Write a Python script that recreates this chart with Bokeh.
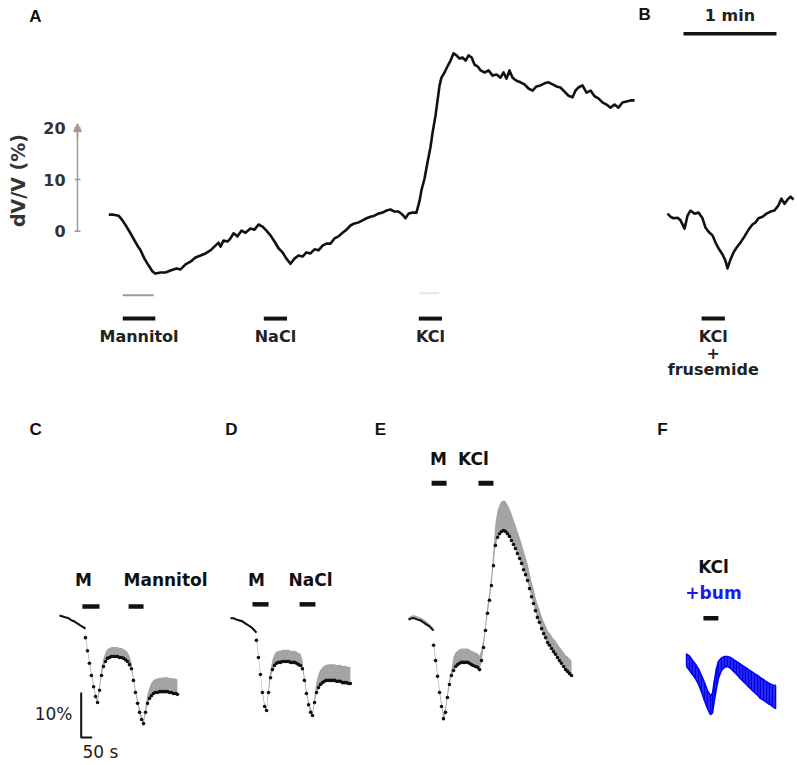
import numpy as np
from bokeh.plotting import figure
from bokeh.layouts import column, row
from bokeh.models import ColumnDataSource, Range1d, Arrow, NormalHead
from bokeh.core.properties import value
from bokeh.embed import file_html
from bokeh.resources import INLINE

# ---------------- DATA ----------------
# Panel A: single-cell volume trace, time (s) vs dV/V (%)
a_t = [0.0, 3.0, 6.3, 8.8, 11.4, 14.0, 16.6, 18.5, 20.5, 23.0,
       25.6, 28.2, 30.1, 33.4, 36.6, 39.8, 43.7, 46.3, 49.5, 52.7,
       55.9, 59.2, 62.4, 65.6, 68.8, 70.8, 72.1, 74.0, 76.6, 78.5,
       80.5, 83.0, 85.6, 88.2, 91.4, 94.0, 96.6, 99.2, 101.7, 104.3,
       106.9, 109.5, 112.1, 114.6, 117.2, 119.8, 122.4, 125.0, 127.5, 130.1,
       132.7, 135.3, 137.9, 140.4, 143.0, 145.6, 148.2, 150.8, 153.4, 155.9,
       158.5, 161.1, 163.7, 166.3, 168.8, 171.4, 174.0, 176.6, 179.2, 181.7,
       184.3, 186.9, 189.5, 191.4, 193.4, 196.0, 198.5, 200.5, 201.7, 203.7,
       205.6, 207.5, 208.8, 210.8, 212.1, 213.4, 214.6, 216.6, 218.5, 220.5,
       222.4, 224.3, 226.3, 228.2, 230.2, 232.1, 234.1, 236.0, 237.9, 239.9,
       242.5, 245.0, 247.6, 250.2, 252.7, 254.7, 256.6, 258.5, 260.5, 263.0,
       265.6, 268.2, 270.8, 273.4, 275.9, 278.5, 281.1, 283.7, 286.3, 288.8,
       291.4, 294.0, 296.6, 299.2, 301.1, 303.0, 305.6, 308.2, 310.8, 313.4,
       315.9, 318.5, 321.1, 323.7, 326.3, 328.8, 331.4, 334.0, 336.6, 339.2]
a_v = [3.2, 3.2, 3.0, 2.1, 0.9, -0.4, -1.8, -2.8, -3.7, -5.3,
       -6.6, -7.8, -8.2, -8.0, -8.0, -7.6, -7.2, -7.4, -6.4, -5.9,
       -5.1, -4.7, -4.3, -3.7, -2.8, -2.2, -3.0, -1.8, -2.0, -1.4,
       -0.4, -1.0, 0.1, -0.3, 0.5, 0.3, 1.3, 0.9, 0.1, -0.8,
       -2.0, -3.3, -4.1, -5.3, -6.3, -5.3, -4.7, -4.9, -4.1, -4.3,
       -3.5, -3.7, -2.8, -2.4, -2.4, -1.4, -1.0, -0.3, 0.3, 1.1,
       1.5, 1.7, 2.1, 2.5, 2.8, 3.0, 3.4, 3.6, 4.0, 4.2,
       3.8, 3.8, 3.2, 2.5, 3.4, 3.6, 3.6, 5.9, 7.9, 10.2,
       13.3, 16.2, 18.9, 22.4, 25.3, 28.2, 29.7, 30.7, 31.9, 33.0,
       34.4, 34.0, 33.4, 33.6, 33.0, 34.0, 33.6, 32.2, 31.9, 31.1,
       30.7, 31.1, 30.1, 30.3, 29.7, 30.7, 29.5, 31.1, 29.7, 29.1,
       28.8, 28.4, 27.6, 27.2, 28.0, 28.2, 28.6, 28.8, 28.4, 28.0,
       27.8, 27.0, 26.2, 25.9, 27.2, 27.8, 28.2, 26.8, 27.2, 26.1,
       25.7, 24.9, 24.5, 23.9, 24.5, 23.9, 24.9, 25.1, 25.3, 25.3]
a_stim_names = ["Mannitol", "NaCl", "KCl"]
a_stim_start = [9, 100, 200]
a_stim_end = [30, 115, 215]
a_ticks = [0, 10, 20]
a_tick_labels = ["0", "10", "20"]
a_axis_label = "dV/V (%)"

# Panel B: KCl + frusemide
b_t = [0.0, 1.9, 3.9, 6.5, 8.4, 11.0, 12.9, 14.8, 17.4, 20.0,
       22.6, 24.5, 26.5, 29.0, 31.0, 32.9, 35.5, 37.4, 38.7, 40.6,
       42.6, 44.5, 47.1, 49.7, 52.3, 54.8, 56.8, 58.7, 61.3, 63.9,
       66.5, 69.0, 71.6, 73.5, 75.5, 77.4, 79.4, 81.3]
b_v = [3.4, 2.8, 2.5, 2.6, 2.1, 0.5, 3.0, 4.0, 3.4, 3.6,
       2.5, 0.7, -0.1, -0.8, -2.2, -3.3, -4.5, -5.7, -7.2, -5.5,
       -4.1, -3.2, -2.2, -1.0, 0.3, 1.3, 1.7, 2.5, 2.8, 3.4,
       3.8, 4.0, 5.0, 6.3, 5.3, 6.1, 6.7, 6.1]
b_stim_start = [22]
b_stim_end = [37]
b_scale_s = 60  # "1 min"

# Panel C: M then Mannitol (mean + SEM)
c_pre_t = [0, 14, 27, 41, 55, 68, 82, 95, 109, 118]
c_pre_v = [0.2, 0.0, -0.2, -0.4, -0.9, -1.1, -1.6, -2.0, -2.4, -2.7]
c_pre_sem = [0.3, 0.3, 0.3, 0.3, 0.3, 0.3, 0.3, 0.3, 0.3, 0.3]
c_t = [118, 127, 136, 145, 155, 164, 173, 182, 191, 200,
       209, 218, 227, 236, 245, 255, 264, 273, 282, 291,
       300, 309, 318, 327, 336, 345, 355, 364, 373, 382,
       391, 400, 409, 418, 427, 436, 445, 455, 464, 473,
       482, 491, 500, 509, 518, 527, 536]
c_mean = [-4.7, -7.6, -10.4, -13.1, -15.6, -17.8, -19.1, -16.4, -13.1, -11.1,
          -10.0, -9.3, -9.1, -8.9, -8.9, -8.9, -8.9, -9.1, -9.1, -9.3,
          -9.6, -10.0, -10.7, -11.6, -14.2, -16.9, -19.3, -21.3, -22.9, -23.8,
          -21.3, -19.3, -18.2, -17.6, -17.1, -16.9, -16.9, -16.7, -16.7, -16.7,
          -16.7, -16.7, -16.9, -16.9, -17.1, -17.1, -17.3]
c_sem = [0.7, 0.7, 0.7, 0.7, 0.7, 0.7, 0.7, 1.3, 1.6, 1.8,
         2.0, 2.1, 2.1, 2.1, 2.1, 2.1, 2.1, 2.1, 2.1, 2.1,
         2.1, 2.1, 2.0, 1.5, 0.9, 0.9, 0.9, 0.9, 0.9, 0.9,
         1.3, 2.0, 2.5, 2.9, 3.0, 3.0, 3.1, 3.1, 3.1, 3.2,
         3.2, 3.2, 3.2, 3.3, 3.3, 3.3, 3.3]
c_stim_names = ["M", "Mannitol"]
c_stim_start = [104, 314]
c_stim_end = [182, 382]

# Panel D: M then NaCl
d_pre_t = [0, 14, 27, 41, 55, 68, 82, 95, 109, 118]
d_pre_v = [-0.4, -0.4, -0.7, -0.9, -1.1, -1.6, -2.0, -2.4, -3.1, -3.6]
d_pre_sem = [0.3, 0.3, 0.3, 0.3, 0.3, 0.3, 0.3, 0.3, 0.3, 0.3]
d_t = [118, 127, 136, 145, 155, 164, 173, 182, 191, 200,
       209, 218, 227, 236, 245, 255, 264, 273, 282, 291,
       300, 309, 318, 327, 336, 345, 355, 364, 373, 382,
       391, 400, 409, 418, 427, 436, 445, 455, 464, 473,
       482, 491, 500, 509, 518, 527, 536, 545]
d_mean = [-5.3, -9.1, -12.9, -16.9, -20.0, -20.9, -16.9, -13.6, -11.8, -10.9,
          -10.4, -10.2, -10.2, -10.0, -10.0, -10.0, -10.0, -10.2, -10.2, -10.2,
          -10.4, -10.7, -10.9, -11.6, -14.2, -17.1, -19.6, -21.3, -22.0, -19.1,
          -16.9, -15.8, -15.1, -14.7, -14.4, -14.2, -14.2, -14.2, -14.2, -14.2,
          -14.4, -14.4, -14.4, -14.7, -14.7, -14.7, -14.9, -14.9]
d_sem = [0.7, 0.7, 0.7, 0.7, 0.7, 0.7, 1.5, 1.8, 2.3, 2.5,
         2.6, 2.6, 2.6, 2.6, 2.6, 2.6, 2.6, 2.6, 2.6, 2.6,
         2.6, 2.6, 2.6, 2.0, 0.9, 0.9, 0.9, 0.9, 0.9, 1.5,
         2.5, 3.0, 3.3, 3.4, 3.5, 3.5, 3.6, 3.6, 3.6, 3.6,
         3.6, 3.6, 3.7, 3.7, 3.7, 3.7, 3.7, 3.7]
d_stim_names = ["M", "NaCl"]
d_stim_start = [100, 314]
d_stim_end = [173, 386]

# Panel E: M then KCl
e_pre_t = [0, 14, 27, 41, 55, 68, 82, 95, 105, 114]
e_pre_v = [-0.7, -0.4, -0.4, -0.7, -0.9, -1.3, -1.8, -2.2, -2.7, -3.1]
e_pre_sem = [0.5, 0.6, 0.7, 0.7, 0.7, 0.7, 0.7, 0.6, 0.6, 0.5]
e_t = [114, 123, 132, 141, 150, 159, 168, 177, 186, 195,
       205, 214, 223, 232, 241, 250, 259, 268, 277, 286,
       295, 305, 314, 323, 332, 341, 350, 359, 368, 377,
       386, 395, 405, 414, 423, 432, 441, 450, 459, 468,
       477, 486, 495, 505, 514, 523, 532, 541, 550, 559,
       568, 577, 586, 595, 605, 614, 623, 632, 641, 650,
       659, 668, 677, 686, 695, 705, 714, 723, 732, 741]
e_mean = [-6.4, -9.8, -13.3, -16.9, -20.0, -22.7, -21.3, -18.0, -15.1, -13.1,
          -12.0, -11.1, -10.7, -10.4, -10.2, -10.2, -10.2, -10.2, -10.4, -10.7,
          -10.9, -11.1, -11.3, -11.8, -9.8, -6.9, -3.1, 0.7, 3.6, 6.9,
          11.3, 15.8, 17.6, 18.4, 18.9, 19.1, 18.9, 18.4, 17.8, 16.9,
          16.0, 15.1, 14.0, 12.9, 11.8, 10.4, 9.3, 8.0, 6.2, 4.4,
          2.9, 1.3, -0.2, -1.3, -2.7, -3.8, -4.7, -5.8, -6.4, -7.1,
          -7.8, -8.4, -9.1, -9.8, -10.4, -11.1, -11.8, -12.2, -12.7, -13.1]
e_sem = [0.9, 0.9, 0.9, 0.9, 0.9, 0.9, 1.3, 1.3, 1.3, 1.3,
         3.1, 3.1, 3.1, 3.1, 3.1, 3.1, 3.1, 3.1, 3.1, 3.1,
         3.1, 3.1, 3.1, 3.1, 2.5, 2.0, 1.8, 1.8, 2.0, 2.5,
         3.5, 5.0, 6.0, 6.5, 6.7, 6.7, 6.7, 6.5, 6.2, 6.0,
         5.6, 5.3, 5.0, 4.7, 4.4, 4.2, 4.0, 3.8, 3.6, 3.4,
         3.3, 3.1, 3.0, 2.9, 2.8, 2.7, 2.7, 2.7, 2.8, 2.8,
         2.9, 3.0, 3.0, 3.1, 3.1, 3.2, 3.2, 3.3, 3.3, 3.3]
e_stim_names = ["M", "KCl"]
e_stim_start = [105, 318]
e_stim_end = [173, 386]

# Panel F: KCl + bumetanide (mean +/- SEM)
f_t = [0, 14, 27, 41, 55, 68, 82, 95, 109, 118,
       127, 136, 145, 159, 173, 186, 200, 214, 227, 241,
       255, 268, 282, 295, 309, 323, 336, 350, 364, 377,
       391, 405]
f_mean = [-9.7, -10.4, -11.3, -12.2, -13.4, -14.9, -16.7, -18.4, -19.7, -19.3,
          -16.4, -13.8, -11.9, -10.6, -10.1, -10.0, -10.3, -10.9, -11.4, -12.0,
          -12.6, -13.1, -13.7, -14.2, -14.8, -15.3, -15.9, -16.3, -16.8, -17.2,
          -17.6, -17.9]
f_sem = [1.4, 1.6, 1.6, 1.6, 1.7, 1.8, 2.0, 2.0, 2.1, 2.2,
         2.2, 2.2, 1.9, 1.4, 1.2, 1.1, 1.2, 1.3, 1.4, 1.6,
         1.7, 1.8, 1.9, 2.0, 2.1, 2.2, 2.3, 2.3, 2.3, 2.3,
         2.4, 2.6]
f_stim_start = [77]
f_stim_end = [145]

scale_pct = 10   # vertical scale bar, %
scale_s = 50     # horizontal scale bar, s

# ---------------- LAYOUT / STYLE ----------------
FONT = "DejaVu Sans"
LFONT = "Liberation Sans"
BLACK = "#111111"
GRAY = "#a4a4a4"
AXIS_GRAY = "#9a9a9a"

TOP_H, BOT_H = 395, 369
A_W, B_W = 636, 160
C_W, D_W, E_W, F_W = 215, 150, 285, 146
A_PX_S, A_PX_PCT = 1.55, 5.17
B_PX_S, B_PX_PCT = 0.22, 4.5


def make_fig(w, h, xr, yr, **kw):
    opts = dict(width=w, height=h, x_range=xr, y_range=yr, output_backend="svg",
                toolbar_location=None, x_axis_location=None, y_axis_location=None,
                min_border=0)
    opts.update(kw)
    p = figure(**opts)
    p.outline_line_color = None
    p.background_fill_color = "white"
    p.border_fill_color = "white"
    p.xgrid.visible = False
    p.ygrid.visible = False
    return p


def txt(p, xs, ys, texts, size, bold=True, color=BLACK, font=FONT, align="center", angle=0):
    src = ColumnDataSource(dict(x=xs, y=ys, t=texts))
    p.text("x", "y", text="t", source=src, text_font=value(font),
           text_font_size=value(f"{size}px"),
           text_font_style="bold" if bold else "normal",
           text_color=color, text_align=align, text_baseline="middle", angle=angle)


def bars(p, starts, ends, level, width=4, color=BLACK):
    n = len(starts)
    p.segment(x0=starts, y0=[level] * n, x1=ends, y1=[level] * n,
              line_width=width, line_color=color, line_cap="butt")


# ---- top row (panels A and B share the same time / % scale) ----
yr_top = Range1d((230.7 - TOP_H) / A_PX_PCT, 230.7 / A_PX_PCT)
xr_a = Range1d(-108.3 / A_PX_S, (A_W - 108.3) / A_PX_S)
pa = make_fig(A_W, TOP_H, xr_a, yr_top)

# vertical dV/V scale axis with arrow
AX_T = -20.2          # axis position (s, left of trace start)
TICK = 1.9            # tick half-length (s)
pa.segment(x0=[AX_T], y0=[a_ticks[0]], x1=[AX_T], y1=[a_ticks[-1]],
           line_color=AXIS_GRAY, line_width=1.5)
pa.segment(x0=[AX_T - TICK] * len(a_ticks), y0=a_ticks, x1=[AX_T + TICK] * len(a_ticks),
           y1=a_ticks, line_color=AXIS_GRAY, line_width=1.5)
pa.add_layout(Arrow(end=NormalHead(size=8, fill_color=AXIS_GRAY, line_color=AXIS_GRAY),
                    x_start=AX_T, y_start=18, x_end=AX_T, y_end=20.8,
                    line_color=AXIS_GRAY, line_width=1.5))
txt(pa, [AX_T - 7.7] * len(a_ticks), a_ticks, a_tick_labels, 16, color="#333333", align="right")
txt(pa, [-58.9], [9.8], [a_axis_label], 19, color="#333333", angle=np.pi / 2)
txt(pa, [-47.3], [41.5], ["A"], 17, font=LFONT)

pa.line(a_t, a_v, line_color=BLACK, line_width=2.6, line_join="round")
bars(pa, [a_stim_start[0]], [a_stim_end[0] - 1], -12.4, width=2, color=AXIS_GRAY)
bars(pa, [a_stim_start[2]], [a_stim_end[2] - 2], -12.0, width=2, color="#e6e6e6")
bars(pa, a_stim_start, a_stim_end, -16.9)
txt(pa, [(s + e) / 2 for s, e in zip(a_stim_start, a_stim_end)], [-20.4] * 3,
    a_stim_names, 16, color="#222222")

xr_b = Range1d((A_W - 667) / A_PX_S, (A_W + B_W - 667) / A_PX_S)
pb = make_fig(B_W, TOP_H, xr_b, yr_top)
pb.line(b_t, b_v, line_color=BLACK, line_width=2.6, line_join="round")
bars(pb, b_stim_start, b_stim_end, -16.9)
bx = (b_stim_start[0] + b_stim_end[0]) / 2
txt(pb, [bx, bx, bx], [-20.4, -23.5, -26.8], ["KCl", "+", "frusemide"], 16, color="#222222")
bars(pb, [10.3], [10.3 + b_scale_s], 38.2, width=3.5)
txt(pb, [10.3 + b_scale_s / 2], [41.7], ["1 min"], 16, color="#222222")
txt(pb, [-14.8], [41.9], ["B"], 17, font=LFONT)

# ---- bottom row (panels C-F share the same time / % scale) ----
yr_bot = Range1d((616 - 395) / B_PX_PCT - BOT_H / B_PX_PCT, (616 - 395) / B_PX_PCT)


def mean_sem_panel(p, pre_t, pre_v, pre_sem, t, mean, sem):
    pre_v = np.array(pre_v); pre_sem = np.array(pre_sem)
    mean = np.array(mean); sem = np.array(sem)
    p.varea(x=pre_t, y1=pre_v, y2=pre_v + pre_sem, fill_color=GRAY)
    p.varea(x=t, y1=mean - 0.25, y2=mean + sem, fill_color=GRAY)
    p.line(pre_t, pre_v, line_color=BLACK, line_width=2)
    p.scatter(t, mean, size=3.6, marker="circle", fill_color=BLACK, line_color=None)


xr_c = Range1d(-268.2, -268.2 + C_W / B_PX_S)
pc = make_fig(C_W, BOT_H, xr_c, yr_bot)
mean_sem_panel(pc, c_pre_t, c_pre_v, c_pre_sem, c_t, c_mean, c_sem)
bars(pc, c_stim_start, c_stim_end, 2.2, width=4.5)
txt(pc, [109, 482], [8.2, 8.2], c_stim_names, 17)
pc.line([98.6, 98.6, 98.6 + scale_s], [-16.9, -16.9 - scale_pct, -16.9 - scale_pct],
        line_color=BLACK, line_width=2)
txt(pc, [59], [-21.6], [f"{scale_pct}%"], 17, bold=False, color="#222222", align="right")
txt(pc, [104.5], [-30.2], [f"{scale_s} s"], 17, bold=False, color="#222222", align="left")
txt(pc, [-109], [41.6], ["C"], 17, font=LFONT)

xr_d = Range1d(-68.2, -68.2 + D_W / B_PX_S)
pd_ = make_fig(D_W, BOT_H, xr_d, yr_bot)
mean_sem_panel(pd_, d_pre_t, d_pre_v, d_pre_sem, d_t, d_mean, d_sem)
bars(pd_, d_stim_start, d_stim_end, 2.7, width=4.5)
txt(pd_, [118, 364], [8.2, 8.2], d_stim_names, 17)
txt(pd_, [4.5], [41.6], ["D"], 17, font=LFONT)

xr_e = Range1d(-195.5, -195.5 + E_W / B_PX_S)
pe = make_fig(E_W, BOT_H, xr_e, yr_bot)
mean_sem_panel(pe, e_pre_t, e_pre_v, e_pre_sem, e_t, e_mean, e_sem)
bars(pe, e_stim_start, e_stim_end, 29.6, width=5)
txt(pe, [136, 295], [35.1, 35.1], e_stim_names, 17)
txt(pe, [-127.3], [41.6], ["E"], 17, font=LFONT)

xr_f = Range1d(-163.6, -163.6 + F_W / B_PX_S)
pf = make_fig(F_W, BOT_H, xr_f, yr_bot)
fm = np.array(f_mean); fs = np.array(f_sem)
pf.varea(x=f_t, y1=fm - fs, y2=fm + fs, fill_color="#2f2fff")
pf.segment(x0=f_t, y0=fm - fs, x1=f_t, y1=fm + fs, line_color="#0000e0", line_width=1.4)
pf.line(f_t, fm + fs, line_color="#0000ff", line_width=1.5)
pf.line(f_t, fm - fs, line_color="#0000ff", line_width=1.5)
bars(pf, f_stim_start, f_stim_end, -0.4, width=4.5)
txt(pf, [122.7], [10.9], ["KCl"], 17)
txt(pf, [122.7], [5.3], ["+bum"], 17, color="#1a1aee")
txt(pf, [-109.1], [41.6], ["F"], 17, font=LFONT)

layout = column(row(pa, pb), row(pc, pd_, pe, pf))
open("out.html", "w").write(file_html(layout, INLINE))
